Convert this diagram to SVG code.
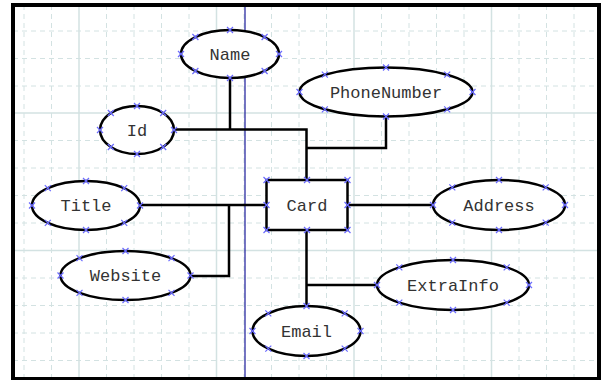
<svg xmlns="http://www.w3.org/2000/svg" xmlns:xlink="http://www.w3.org/1999/xlink" width="601" height="380" viewBox="0 0 601 380">
<style>
.minor{stroke:#d3e2e2;stroke-width:1;stroke-dasharray:5,4;fill:none}
.major{stroke:#d3e2e2;stroke-width:1.5;fill:none}
.shape{fill:#ffffff;stroke:#000000;stroke-width:2.5}
.conn{fill:none;stroke:#000000;stroke-width:2.5}
.lbl{font-family:"Liberation Mono","Courier New",monospace;font-size:17px;fill:#333333;text-anchor:middle}
.mk{stroke:#6a6aff;stroke-width:1.2;fill:none}
</style>
<defs>
<path id="x" class="mk" d="M-3,-3 L3,3 M-3,3 L3,-3"/>
</defs>
<rect x="0" y="0" width="601" height="380" fill="#ffffff"/>
<g id="grid">
<path class="minor" d="M24,5V379M51.5,5V379M106.5,5V379M134,5V379M161.5,5V379M189,5V379M244,5V379M271.5,5V379M299,5V379M326.5,5V379M381.5,5V379M409,5V379M436.5,5V379M464,5V379M519,5V379M546.5,5V379M574,5V379"/>
<path class="minor" d="M13,31H599M13,58.5H599M13,86H599M13,140.5H599M13,168H599M13,195.5H599M13,223H599M13,278H599M13,305.5H599M13,333H599M13,360.5H599"/>
<path class="major" d="M79,5V379M216.5,5V379M354,5V379M491.5,5V379M13,113H599M13,250.5H599"/>
<line x1="245" y1="5" x2="245" y2="379" stroke="#1a1a9a" stroke-width="1.2"/>
</g>
<g id="connectors">
<path class="conn" d="M174,129.5H306.5V180"/>
<path class="conn" d="M230,78V129.5"/>
<path class="conn" d="M386,116.5V148H306.5"/>
<path class="conn" d="M140,205H266.5"/>
<path class="conn" d="M190.5,276H229V205"/>
<path class="conn" d="M347.5,205H433"/>
<path class="conn" d="M306.5,230V306"/>
<path class="conn" d="M377,285H306.5"/>
</g>
<g id="Name">
<ellipse class="shape" cx="230" cy="54" rx="49" ry="24"/>
<text class="lbl" x="230" y="59.5">Name</text>
<g><use xlink:href="#x" x="181" y="54"/><use xlink:href="#x" x="279" y="54"/><use xlink:href="#x" x="230" y="30"/><use xlink:href="#x" x="230" y="78"/><use xlink:href="#x" x="195.4" y="37"/><use xlink:href="#x" x="264.6" y="37"/><use xlink:href="#x" x="195.4" y="71"/><use xlink:href="#x" x="264.6" y="71"/></g>
</g>
<g id="Id">
<ellipse class="shape" cx="137" cy="130" rx="37" ry="24"/>
<text class="lbl" x="137" y="135.5">Id</text>
<g><use xlink:href="#x" x="100" y="130"/><use xlink:href="#x" x="174" y="130"/><use xlink:href="#x" x="137" y="106"/><use xlink:href="#x" x="137" y="154"/><use xlink:href="#x" x="110.8" y="113"/><use xlink:href="#x" x="163.2" y="113"/><use xlink:href="#x" x="110.8" y="147"/><use xlink:href="#x" x="163.2" y="147"/></g>
</g>
<g id="PhoneNumber">
<ellipse class="shape" cx="386" cy="92" rx="86.5" ry="24.5"/>
<text class="lbl" x="386" y="97.5">PhoneNumber</text>
<g><use xlink:href="#x" x="299.5" y="92"/><use xlink:href="#x" x="472.5" y="92"/><use xlink:href="#x" x="386" y="67.5"/><use xlink:href="#x" x="386" y="116.5"/><use xlink:href="#x" x="324.8" y="74.7"/><use xlink:href="#x" x="447.2" y="74.7"/><use xlink:href="#x" x="324.8" y="109.3"/><use xlink:href="#x" x="447.2" y="109.3"/></g>
</g>
<g id="Title">
<ellipse class="shape" cx="86" cy="205.5" rx="54" ry="24.5"/>
<text class="lbl" x="86" y="211">Title</text>
<g><use xlink:href="#x" x="32" y="205.5"/><use xlink:href="#x" x="140" y="205.5"/><use xlink:href="#x" x="86" y="181"/><use xlink:href="#x" x="86" y="230"/><use xlink:href="#x" x="47.8" y="188.2"/><use xlink:href="#x" x="124.2" y="188.2"/><use xlink:href="#x" x="47.8" y="222.8"/><use xlink:href="#x" x="124.2" y="222.8"/></g>
</g>
<g id="Card">
<rect class="shape" x="266.5" y="180" width="81" height="50"/>
<text class="lbl" x="307" y="210.5">Card</text>
<g><use xlink:href="#x" x="266.5" y="180"/><use xlink:href="#x" x="307" y="180"/><use xlink:href="#x" x="347.5" y="180"/><use xlink:href="#x" x="266.5" y="205"/><use xlink:href="#x" x="347.5" y="205"/><use xlink:href="#x" x="266.5" y="230"/><use xlink:href="#x" x="307" y="230"/><use xlink:href="#x" x="347.5" y="230"/></g>
</g>
<g id="Address">
<ellipse class="shape" cx="499" cy="205" rx="66" ry="25"/>
<text class="lbl" x="499" y="210.5">Address</text>
<g><use xlink:href="#x" x="433" y="205"/><use xlink:href="#x" x="565" y="205"/><use xlink:href="#x" x="499" y="180"/><use xlink:href="#x" x="499" y="230"/><use xlink:href="#x" x="452.3" y="187.3"/><use xlink:href="#x" x="545.7" y="187.3"/><use xlink:href="#x" x="452.3" y="222.7"/><use xlink:href="#x" x="545.7" y="222.7"/></g>
</g>
<g id="Website">
<ellipse class="shape" cx="125.5" cy="275.5" rx="65" ry="24.5"/>
<text class="lbl" x="125.5" y="281">Website</text>
<g><use xlink:href="#x" x="60.5" y="275.5"/><use xlink:href="#x" x="190.5" y="275.5"/><use xlink:href="#x" x="125.5" y="251"/><use xlink:href="#x" x="125.5" y="300"/><use xlink:href="#x" x="79.5" y="258.2"/><use xlink:href="#x" x="171.5" y="258.2"/><use xlink:href="#x" x="79.5" y="292.8"/><use xlink:href="#x" x="171.5" y="292.8"/></g>
</g>
<g id="ExtraInfo">
<ellipse class="shape" cx="453" cy="285" rx="76" ry="25"/>
<text class="lbl" x="453" y="290.5">ExtraInfo</text>
<g><use xlink:href="#x" x="377" y="285"/><use xlink:href="#x" x="529" y="285"/><use xlink:href="#x" x="453" y="260"/><use xlink:href="#x" x="453" y="310"/><use xlink:href="#x" x="399.3" y="267.3"/><use xlink:href="#x" x="506.7" y="267.3"/><use xlink:href="#x" x="399.3" y="302.7"/><use xlink:href="#x" x="506.7" y="302.7"/></g>
</g>
<g id="Email">
<ellipse class="shape" cx="306.5" cy="331" rx="54" ry="25"/>
<text class="lbl" x="306.5" y="336.5">Email</text>
<g><use xlink:href="#x" x="252.5" y="331"/><use xlink:href="#x" x="360.5" y="331"/><use xlink:href="#x" x="306.5" y="306"/><use xlink:href="#x" x="306.5" y="356"/><use xlink:href="#x" x="268.3" y="313.3"/><use xlink:href="#x" x="344.7" y="313.3"/><use xlink:href="#x" x="268.3" y="348.7"/><use xlink:href="#x" x="344.7" y="348.7"/></g>
</g>
<rect x="13" y="5" width="586" height="374" fill="none" stroke="#000000" stroke-width="4"/>
</svg>
